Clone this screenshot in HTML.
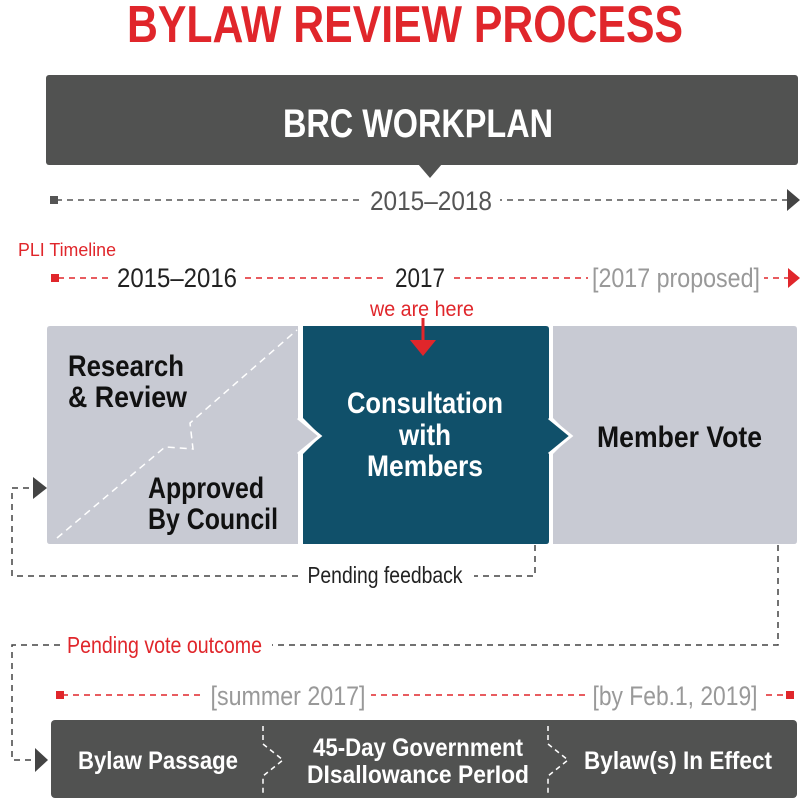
<!DOCTYPE html>
<html><head><meta charset="utf-8"><style>body{margin:0;background:#fff}svg{display:block}</style></head>
<body>
<svg width="804" height="804" viewBox="0 0 804 804" xmlns="http://www.w3.org/2000/svg" font-family="Liberation Sans, sans-serif">
<text x="405" y="42" text-anchor="middle" font-size="52" font-weight="bold" fill="#e0262b" textLength="556" lengthAdjust="spacingAndGlyphs">BYLAW REVIEW PROCESS</text>
<rect x="46" y="75" width="752" height="90" rx="3" fill="#515251"/>
<polygon points="418,164 442,164 430,178" fill="#515251"/>
<text x="418" y="137" text-anchor="middle" font-size="40" font-weight="bold" fill="#fff" textLength="270" lengthAdjust="spacingAndGlyphs">BRC WORKPLAN</text>

<line x1="56" y1="200" x2="788" y2="200" stroke="#555" stroke-width="1.5" stroke-dasharray="6,5"/>
<rect x="50" y="196" width="8" height="8" fill="#555"/>
<polygon points="787,189 800,200 787,211" fill="#444"/>
<rect x="362" y="186" width="138" height="28" fill="#fff"/>
<text x="431" y="210" text-anchor="middle" font-size="27" fill="#555" textLength="122" lengthAdjust="spacingAndGlyphs">2015–2018</text>

<text x="18" y="256" font-size="18" fill="#e0262b" textLength="98" lengthAdjust="spacingAndGlyphs">PLI Timeline</text>
<line x1="58" y1="278" x2="788" y2="278" stroke="#e0262b" stroke-width="1.5" stroke-dasharray="6,5"/>
<rect x="51" y="274" width="8" height="8" fill="#e0262b"/>
<polygon points="788,268 800,278 788,288" fill="#e0262b"/>
<rect x="110" y="264" width="134" height="28" fill="#fff"/>
<text x="177" y="287" text-anchor="middle" font-size="27" fill="#222" textLength="120" lengthAdjust="spacingAndGlyphs">2015–2016</text>
<rect x="388" y="264" width="64" height="28" fill="#fff"/>
<text x="420" y="287" text-anchor="middle" font-size="27" fill="#222" textLength="50" lengthAdjust="spacingAndGlyphs">2017</text>
<rect x="588" y="264" width="176" height="28" fill="#fff"/>
<text x="676" y="287" text-anchor="middle" font-size="27" fill="#999" textLength="168" lengthAdjust="spacingAndGlyphs">[2017 proposed]</text>

<text x="422" y="316" text-anchor="middle" font-size="21" fill="#e0262b" textLength="104" lengthAdjust="spacingAndGlyphs">we are here</text>

<path d="M50,326 H298 V418 L320,436 L298,454 V544 H50 Q47,544 47,541 V329 Q47,326 50,326Z" fill="#c8cad3"/>
<path d="M303,326 H546 Q549,326 549,329 V418 L571,436 L549,454 V541 Q549,544 546,544 H303 V454 L321,436 L303,418Z" fill="#10506a"/>
<path d="M553,326 H794 Q797,326 797,329 V541 Q797,544 794,544 H553 V454 L571,436 L553,418Z" fill="#c8cad3"/>
<path d="M298,418 L320,436 L298,454" fill="none" stroke="#fff" stroke-width="3"/>
<path d="M549,418 L571,436 L549,454" fill="none" stroke="#fff" stroke-width="3"/>
<path d="M57,538 L165,447 L180,448 L193,449 L190,423 L297,330" fill="none" stroke="#fff" stroke-width="1.5" stroke-dasharray="7,5"/>
<line x1="423" y1="318" x2="423" y2="344" stroke="#e0262b" stroke-width="3"/>
<polygon points="410,340 436,340 423,356" fill="#e0262b"/>

<g font-size="30" font-weight="bold" fill="#111">
<text x="68" y="376" textLength="116" lengthAdjust="spacingAndGlyphs">Research</text>
<text x="68" y="407" textLength="119" lengthAdjust="spacingAndGlyphs">&amp; Review</text>
<text x="148" y="498" textLength="116" lengthAdjust="spacingAndGlyphs">Approved</text>
<text x="148" y="529" textLength="130" lengthAdjust="spacingAndGlyphs">By Council</text>
<text x="597" y="447" textLength="165" lengthAdjust="spacingAndGlyphs">Member Vote</text>
</g>
<g font-size="30" font-weight="bold" fill="#fff" text-anchor="middle">
<text x="425" y="413" textLength="156" lengthAdjust="spacingAndGlyphs">Consultation</text>
<text x="425" y="445" textLength="52" lengthAdjust="spacingAndGlyphs">with</text>
<text x="425" y="476" textLength="116" lengthAdjust="spacingAndGlyphs">Members</text>
</g>

<path d="M535,545 V576 H474 M298,576 H12 V488 H34" fill="none" stroke="#444" stroke-width="1.5" stroke-dasharray="6,5"/>
<polygon points="33,477 47,488 33,499" fill="#444"/>
<text x="385" y="583" text-anchor="middle" font-size="23" fill="#222" textLength="155" lengthAdjust="spacingAndGlyphs">Pending feedback</text>

<path d="M778,545 V645 H272 M60,645 H12 V760 H36" fill="none" stroke="#444" stroke-width="1.5" stroke-dasharray="6,5"/>
<polygon points="35,748 48,760 35,772" fill="#444"/>
<text x="67" y="653" font-size="23" fill="#e0262b" textLength="195" lengthAdjust="spacingAndGlyphs">Pending vote outcome</text>

<line x1="62" y1="695" x2="790" y2="695" stroke="#e0262b" stroke-width="1.5" stroke-dasharray="6,5"/>
<rect x="56" y="691" width="8" height="8" fill="#e0262b"/>
<rect x="786" y="691" width="8" height="8" fill="#e0262b"/>
<rect x="203" y="682" width="168" height="28" fill="#fff"/>
<text x="288" y="705" text-anchor="middle" font-size="27" fill="#999" textLength="155" lengthAdjust="spacingAndGlyphs">[summer 2017]</text>
<rect x="586" y="682" width="176" height="28" fill="#fff"/>
<text x="675" y="705" text-anchor="middle" font-size="27" fill="#999" textLength="165" lengthAdjust="spacingAndGlyphs">[by Feb.1, 2019]</text>

<rect x="51" y="720" width="746" height="78" rx="4" fill="#515251"/>
<path d="M263,726 V744 L283,760 L263,776 V796" fill="none" stroke="#fff" stroke-width="1.5" stroke-dasharray="5,4"/>
<path d="M548,726 V744 L568,760 L548,776 V796" fill="none" stroke="#fff" stroke-width="1.5" stroke-dasharray="5,4"/>
<g font-size="25" font-weight="bold" fill="#fff" text-anchor="middle">
<text x="158" y="769" textLength="160" lengthAdjust="spacingAndGlyphs">Bylaw Passage</text>
<text x="418" y="756" textLength="210" lengthAdjust="spacingAndGlyphs">45-Day Government</text>
<text x="418" y="783" textLength="222" lengthAdjust="spacingAndGlyphs">DIsallowance PerIod</text>
<text x="678" y="769" textLength="188" lengthAdjust="spacingAndGlyphs">Bylaw(s) In Effect</text>
</g>
</svg>
</body></html>
